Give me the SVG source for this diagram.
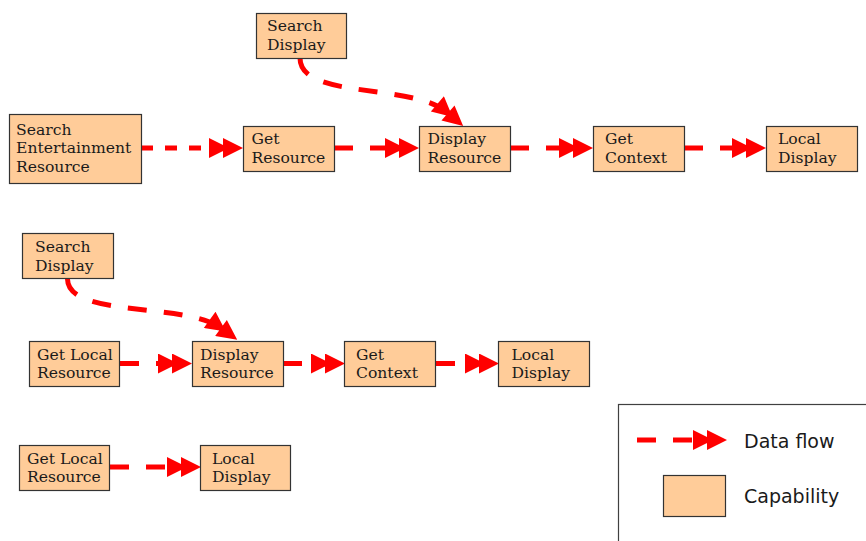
<svg xmlns="http://www.w3.org/2000/svg" width="866" height="541" viewBox="0 0 866 541">
<style>
.box{fill:#ffcc99;stroke:#333;stroke-width:1.2}
.t{font-family:"DejaVu Serif","Liberation Serif",serif;font-size:15.6px;fill:#1a1a1a}
.lg{font-family:"DejaVu Sans","Liberation Sans",sans-serif;font-size:19px;fill:#1a1a1a}
.flow{fill:none;stroke:#ff0000;stroke-width:5;stroke-dasharray:19,17;marker-end:url(#dbl)}
</style>
<defs>
<marker id="dbl" viewBox="-15 -10 35 20" refX="0" refY="0" markerWidth="35" markerHeight="20" markerUnits="userSpaceOnUse" orient="auto">
<path d="M20,0 L0,-10 L0,10 Z M6,0 L-14,-10 L-14,10 Z" fill="#ff0000"/>
</marker>
</defs>
<rect width="866" height="541" fill="#fff"/>

<g id="connectors">
<path class="flow" d="M141,148 H223" style="stroke-dasharray:12,12"/>
<path class="flow" d="M334,148 H399"/>
<path class="flow" d="M510,148 H573"/>
<path class="flow" d="M684,148 H746"/>
<path class="flow" d="M300,58 C300,100 412,82 448,113"/>
<path class="flow" d="M120,363.5 H172"/>
<path class="flow" d="M283,363.5 H325"/>
<path class="flow" d="M436,363.5 H479"/>
<path class="flow" d="M67.5,279 C68,318 185,302 221,328"/>
<path class="flow" d="M110,467 H181"/>
</g>

<g id="n-search-display-1"><rect class="box" x="256.5" y="13.5" width="90" height="45"/><text class="t" x="267" y="31">Search</text><text class="t" x="267" y="49.5">Display</text></g>
<g id="n-search-ent"><rect class="box" x="9.5" y="114.5" width="132" height="69"/><text class="t" x="16" y="134.5">Search</text><text class="t" x="16" y="153">Entertainment</text><text class="t" x="16" y="171.5">Resource</text></g>
<g id="n-get-resource"><rect class="box" x="243.5" y="126.5" width="91" height="45"/><text class="t" x="251.5" y="144">Get</text><text class="t" x="251.5" y="162.5">Resource</text></g>
<g id="n-display-resource-1"><rect class="box" x="419.5" y="126.5" width="91" height="45"/><text class="t" x="427.5" y="144">Display</text><text class="t" x="427.5" y="162.5">Resource</text></g>
<g id="n-get-context-1"><rect class="box" x="593.5" y="126.5" width="91" height="45"/><text class="t" x="605" y="144">Get</text><text class="t" x="605" y="162.5">Context</text></g>
<g id="n-local-display-1"><rect class="box" x="766.5" y="126.5" width="91" height="45"/><text class="t" x="778" y="144">Local</text><text class="t" x="778" y="162.5">Display</text></g>

<g id="n-search-display-2"><rect class="box" x="22.5" y="233.5" width="91" height="45"/><text class="t" x="35" y="252">Search</text><text class="t" x="35" y="270.5">Display</text></g>
<g id="n-get-local-resource-2"><rect class="box" x="29.5" y="341.5" width="90" height="45"/><text class="t" x="37" y="359.5">Get Local</text><text class="t" x="37" y="378">Resource</text></g>
<g id="n-display-resource-2"><rect class="box" x="192.5" y="341.5" width="91" height="45"/><text class="t" x="200" y="359.5">Display</text><text class="t" x="200" y="378">Resource</text></g>
<g id="n-get-context-2"><rect class="box" x="344.5" y="341.5" width="91" height="45"/><text class="t" x="356" y="359.5">Get</text><text class="t" x="356" y="378">Context</text></g>
<g id="n-local-display-2"><rect class="box" x="498.5" y="341.5" width="91" height="45"/><text class="t" x="511.5" y="359.5">Local</text><text class="t" x="511.5" y="378">Display</text></g>

<g id="n-get-local-resource-3"><rect class="box" x="19.5" y="445.5" width="90" height="45"/><text class="t" x="27" y="463.5">Get Local</text><text class="t" x="27" y="482">Resource</text></g>
<g id="n-local-display-3"><rect class="box" x="200.5" y="445.5" width="90" height="45"/><text class="t" x="212" y="463.5">Local</text><text class="t" x="212" y="482">Display</text></g>

<g id="legend">
<rect x="618.5" y="404.5" width="260" height="150" fill="#fff" stroke="#404040" stroke-width="1.2"/>
<path class="flow" d="M637,440 H707"/>
<text class="lg" x="744" y="447.5">Data flow</text>
<rect class="box" x="663.5" y="475.5" width="62" height="41"/>
<text class="lg" x="744" y="502.5">Capability</text>
</g>
</svg>
